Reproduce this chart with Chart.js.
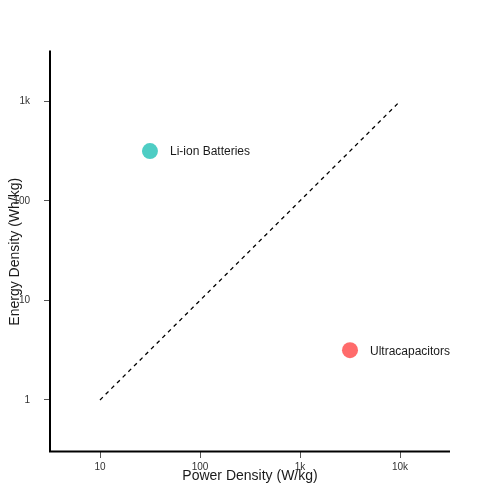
<!DOCTYPE html>
<html>
<head>
<meta charset="utf-8">
<script src="https://cdn.jsdelivr.net/npm/chart.js@4/dist/chart.umd.min.js"></script>
<style>
  html, body { margin: 0; padding: 0; background: #fff; }
  #wrap { width: 500px; height: 500px; }
</style>
</head>
<body>
<div id="wrap"><canvas id="c"></canvas></div>
<script>
// data
var techNames = ['Li-ion Batteries', 'Ultracapacitors']
var powerDensity = [31.6, 3162]   // W/kg
var energyDensity = [316, 3.16]    // Wh/kg
var techColors = ['#4ECDC4', '#FF6B6B']
var refLineX = [10, 10000]
var refLineY = [1, 1000]
var tickValues = [1, 10, 100, 1000, 10000]
var tickNames = {1: '1', 10: '10', 100: '100', 1000: '1k', 10000: '10k'}

function fmt(v) {
  return tickNames[v] !== undefined ? tickNames[v] : ''
}

function onlyDecades(scale) {
  scale.ticks = tickValues
    .filter(function (v) { return v >= scale.min && v <= scale.max })
    .map(function (v) { return { value: v } })
}

// L shaped axis lines, drawn on the chart area edges
var axisLines = {
  id: 'axisLines',
  afterDraw: function (chart) {
    var ctx = chart.ctx
    var a = chart.chartArea
    ctx.save()
    ctx.strokeStyle = '#000'
    ctx.lineWidth = 2
    ctx.beginPath()
    ctx.moveTo(a.left, a.top - 1)
    ctx.lineTo(a.left, a.bottom - 0.5)
    ctx.lineTo(a.right, a.bottom - 0.5)
    ctx.stroke()
    ctx.restore()
  }
}

// names next to the dots + axis titles on top of the tick labels
var annotate = {
  id: 'annotate',
  afterDatasetsDraw: function (chart) {
    var ctx = chart.ctx
    var a = chart.chartArea
    ctx.save()
    ctx.fillStyle = '#1a1a1a'
    ctx.font = '12px "Liberation Sans", Arial, sans-serif'
    ctx.textBaseline = 'middle'
    ctx.textAlign = 'left'
    chart.getDatasetMeta(1).data.forEach(function (pt, i) {
      ctx.fillText(techNames[i], pt.x + 20, pt.y + 1)
    })
    ctx.font = '14px "Liberation Sans", Arial, sans-serif'
    ctx.textAlign = 'center'
    ctx.fillText('Power Density (W/kg)', (a.left + a.right) / 2, a.bottom + 24)
    ctx.translate(a.left - 35, (a.top + a.bottom) / 2)
    ctx.rotate(-Math.PI / 2)
    ctx.fillText('Energy Density (Wh/kg)', 0, 0)
    ctx.restore()
  }
}

new Chart('c', {
  type: 'scatter',
  data: {
    datasets: [{
      type: 'line',
      data: refLineX.map(function (x, i) { return { x: x, y: refLineY[i] } }),
      borderColor: '#000',
      borderWidth: 1.3,
      borderDash: [4, 4],
      pointRadius: 0,
      fill: false
    }, {
      data: powerDensity.map(function (x, i) { return { x: x, y: energyDensity[i] } }),
      backgroundColor: techColors,
      borderWidth: 0,
      pointRadius: 8,
      pointHoverRadius: 8
    }]
  },
  options: {
    responsive: true,
    maintainAspectRatio: false,
    animation: false,
    layout: { padding: { top: 51.5, right: 50, left: 0, bottom: 0 } },
    plugins: { legend: { display: false }, tooltip: { enabled: false } },
    scales: {
      x: {
        type: 'logarithmic',
        min: Math.pow(10, 0.5),
        max: Math.pow(10, 4.5),
        afterBuildTicks: onlyDecades,
        afterFit: function (s) { s.height = 48 },
        grid: { drawOnChartArea: false, drawTicks: true, tickLength: 6, tickColor: '#555', tickWidth: 1 },
        border: { display: false },
        ticks: {
          autoSkip: false, maxRotation: 0, padding: 3,
          color: '#333',
          font: { size: 10, family: '"Liberation Sans", Arial, sans-serif' },
          callback: function (v) { return fmt(v) }
        }
      },
      y: {
        type: 'logarithmic',
        min: Math.pow(10, -0.5),
        max: Math.pow(10, 3.5),
        afterBuildTicks: onlyDecades,
        afterFit: function (s) { s.width = 50 },
        grid: { drawOnChartArea: false, drawTicks: true, tickLength: 6, tickColor: '#555', tickWidth: 1 },
        border: { display: false },
        ticks: {
          autoSkip: false, padding: 14,
          color: '#333',
          font: { size: 10, family: '"Liberation Sans", Arial, sans-serif' },
          callback: function (v) { return fmt(v) }
        }
      }
    }
  },
  plugins: [axisLines, annotate]
})
</script>
</body>
</html>
